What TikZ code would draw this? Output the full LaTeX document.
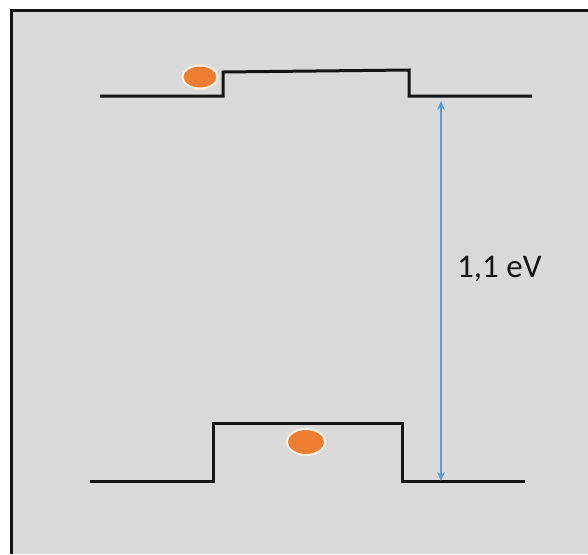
\documentclass[tikz,border=0pt]{standalone}
\usepackage{fontspec}
\setmainfont{Carlito}
\usetikzlibrary{arrows.meta,shapes.geometric}
\definecolor{panel}{HTML}{D9D9D9}
\definecolor{ink}{HTML}{141414}
\definecolor{gap}{HTML}{5B9BD5}
\definecolor{carrier}{HTML}{ED7D31}
\definecolor{halo}{HTML}{FDF0E4}
\newcommand{\gapfont}{\fontsize{33}{38}\selectfont}

\begin{document}
\begin{tikzpicture}[x=1pt,y=-1pt,
  level/.style={ink,line width=3pt,line join=miter},
  dot/.style={ellipse,fill=carrier,draw=halo,line width=2pt,inner sep=0pt}]
\useasboundingbox (0,0) rectangle (588,554);
\fill[white] (0,0) rectangle (588,554);
\fill[panel] (11,10) rectangle (588,554);
\draw[ink,line width=3pt] (11,554) -- (11,10) -- (588,10);
% upper band
\draw[level] (100,96) -- (223,96) -- (223,72) -- (409,70) -- (409,96) -- (532,96);
\node[dot,minimum width=35pt,minimum height=23pt] (top) at (200,77) {};
% lower band
\draw[level] (90,481) -- (213,481) -- (213,423) -- (402,423) -- (402,481) -- (525,481);
\node[dot,minimum width=38pt,minimum height=26pt] (low) at (306,442) {};
% gap
\coordinate (gtop) at (441,101);
\coordinate (gbot) at (441,481);
\draw[gap,line width=2.7pt,{Stealth[length=9pt,width=8pt]}-{Stealth[length=9pt,width=8pt]}] (gtop) -- (gbot);
\node[text=ink,font=\gapfont,anchor=west,inner sep=0pt] (ev) at (457,269) {1,1 eV};
\end{tikzpicture}
\end{document}
